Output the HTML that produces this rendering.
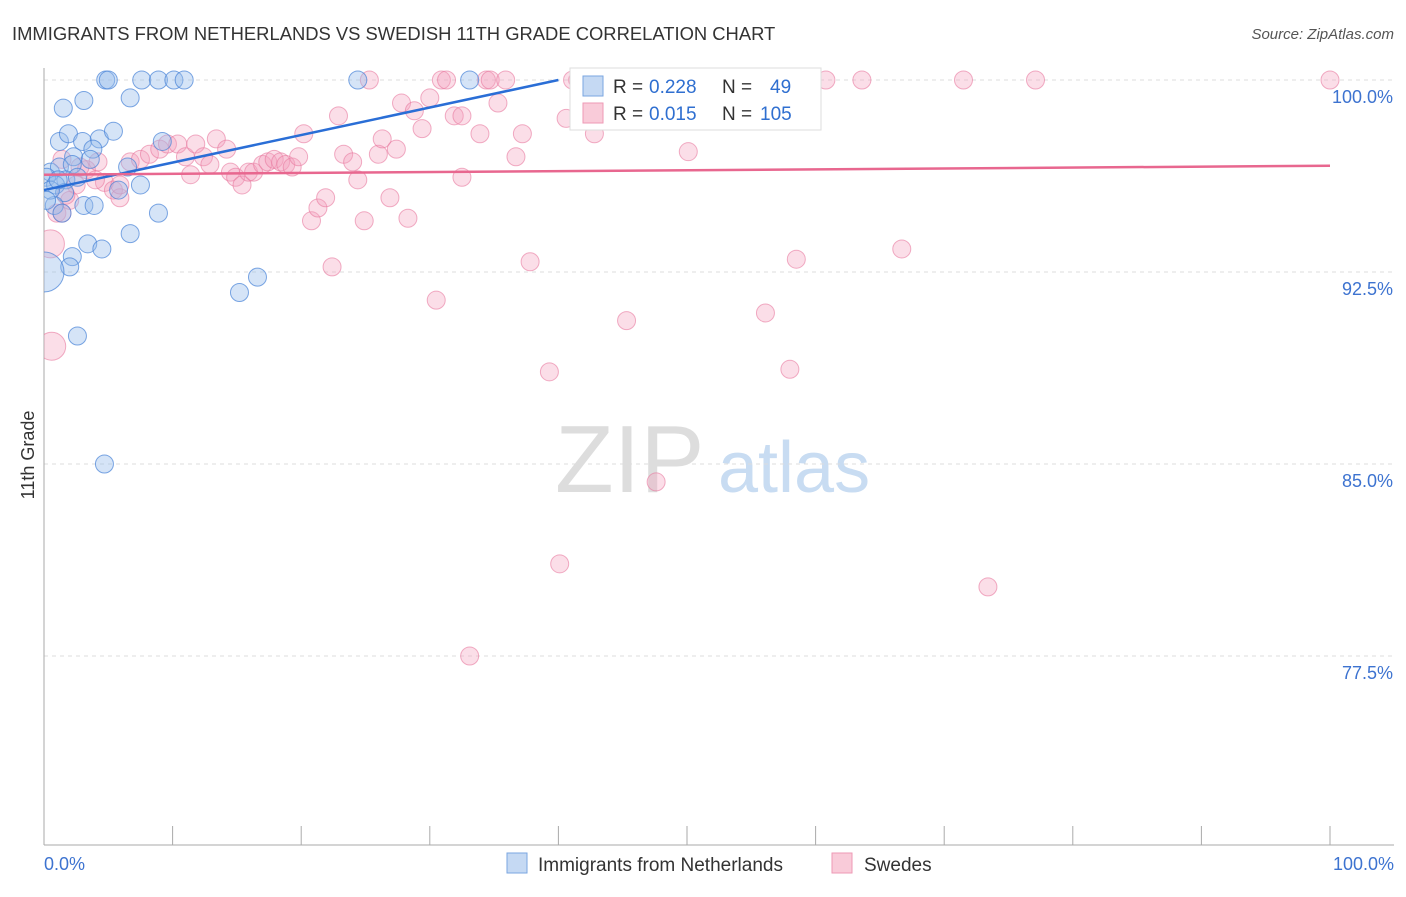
<!DOCTYPE html>
<html><head><meta charset="utf-8"><style>
body{margin:0;background:#fff;font-family:"Liberation Sans",sans-serif;}
svg text{font-family:"Liberation Sans",sans-serif;}
</style></head><body>
<svg id="chart" width="1406" height="892">
<defs><clipPath id="plotclip"><rect x="44" y="60" width="1360" height="785"/></clipPath></defs>
<text x="12" y="40" font-size="18.4" fill="#333">IMMIGRANTS FROM NETHERLANDS VS SWEDISH 11TH GRADE CORRELATION CHART</text>
<text x="1394" y="39" font-size="15" fill="#555" font-style="italic" text-anchor="end">Source: ZipAtlas.com</text>
<text x="555" y="492" font-size="96" fill="#ddd" font-family="Liberation Serif">ZIP</text>
<text x="718" y="492" font-size="72" fill="#c8dcf2">atlas</text>
<g id="grid"></g><g id="axes"></g><g id="pts" clip-path="url(#plotclip)"></g><g id="lines"></g>
<text x="34" y="455" font-size="18" fill="#333" transform="rotate(-90 34 455)" text-anchor="middle">11th Grade</text>
<g>
<rect x="570" y="68" width="251" height="62" fill="#fff" stroke="#ddd"/>
<rect x="583" y="76" width="20" height="20" fill="#c5d9f3" stroke="#7aa6e0"/>
<rect x="583" y="103" width="20" height="20" fill="#f9cbd9" stroke="#ee9ab5"/>
<text y="93" font-size="19" fill="#333"><tspan x="613">R =</tspan><tspan x="649" fill="#2f6fd0">0.228</tspan><tspan x="722">N =</tspan><tspan x="770" fill="#2f6fd0">49</tspan></text>
<text y="120" font-size="19" fill="#333"><tspan x="613">R =</tspan><tspan x="649" fill="#2f6fd0">0.015</tspan><tspan x="722">N =</tspan><tspan x="760" fill="#2f6fd0">105</tspan></text>
</g>
<g>
<rect x="507" y="853" width="20" height="20" fill="#c5d9f3" stroke="#7aa6e0"/>
<text x="538" y="871" font-size="19" fill="#333">Immigrants from Netherlands</text>
<rect x="832" y="853" width="20" height="20" fill="#f9cbd9" stroke="#ee9ab5"/>
<text x="864" y="871" font-size="19" fill="#333">Swedes</text>
</g>
</svg>
<script>
const yTicks=[100,92.5,85,77.5];
const yTickLabels=["100.0%","92.5%","85.0%","77.5%"];
const blueX=[4.8,5.0,7.6,8.9,10.1,10.9,24.4,33.1,1.5,3.1,6.7,1.2,1.9,3.0,4.3,5.4,9.2,3.8,2.3,0.5,1.2,2.2,6.5,0.2,1.7,0.9,2.6,1.6,5.8,7.5,0.8,3.1,3.9,1.4,8.9,6.7,3.4,4.5,2.2,2.0,0,2.6,15.2,16.6,4.7,0.5,1.1,0.2,3.6];
const blueY=[100,100,100,100,100,100,100,100,98.9,99.2,99.3,97.6,97.9,97.6,97.7,98.0,97.6,97.3,97.0,96.4,96.6,96.7,96.6,96.2,96.1,95.9,96.2,95.6,95.7,95.9,95.1,95.1,95.1,94.8,94.8,94.0,93.6,93.4,93.1,92.7,92.5,90.0,91.7,92.3,85.0,95.7,96.1,95.3,96.9];
const pinkX=[0.5,0.6,1.0,1.4,2.0,2.5,3.3,4.2,4.7,5.4,5.9,6.7,7.5,8.2,9.0,9.6,10.4,11.0,11.4,11.8,12.4,12.9,13.4,14.2,14.5,14.9,15.4,15.9,16.3,17.0,17.4,17.9,18.4,18.8,19.3,19.8,20.2,20.8,21.3,21.9,22.4,22.9,23.3,24.0,24.4,24.9,25.3,26.0,26.3,26.9,27.4,27.8,28.3,28.8,29.4,30.0,30.5,30.9,31.3,31.9,32.5,32.5,33.1,33.9,34.4,34.7,35.3,35.9,36.7,37.2,37.8,39.3,40.1,40.6,41.1,41.5,42.8,43.2,45.3,46.3,47.6,48.5,50.1,51.3,53.5,54.1,56.1,56.5,58.0,58.5,60.8,63.6,66.7,71.5,73.4,77.1,100,1.4,2.8,4.0,5.9,1.7];
const pinkY=[93.6,89.6,94.8,94.8,95.3,95.9,96.5,96.8,96.0,95.7,95.4,96.8,96.9,97.1,97.3,97.5,97.5,97.0,96.3,97.5,97.0,96.7,97.7,97.3,96.4,96.2,95.9,96.4,96.4,96.7,96.8,96.9,96.8,96.7,96.6,97.0,97.9,94.5,95.0,95.4,92.7,98.6,97.1,96.8,96.1,94.5,100,97.1,97.7,95.4,97.3,99.1,94.6,98.8,98.1,99.3,91.4,100,100,98.6,98.6,96.2,77.5,97.9,100,100,99.1,100,97.0,97.9,92.9,88.6,81.1,98.5,100,100,97.9,100,90.6,100,84.3,100,97.2,100,100,100,90.9,100,88.7,93.0,100,100,93.4,100,80.2,100,100,96.9,96.6,96.1,95.9,95.5];
const blueTrend=[95.7,100,0,40];
const pinkTrend=[96.3,96.65];
const NS="http://www.w3.org/2000/svg";
const X=v=>44+v*12.86, Y=v=>80+(100-v)*25.6;
function mk(t,a,p){const e=document.createElementNS(NS,t);for(const k in a)e.setAttribute(k,a[k]);document.getElementById(p).appendChild(e);return e;}
yTicks.forEach((t,i)=>{
 const g=mk('line',{x1:44,x2:1394,y1:Y(t),y2:Y(t),stroke:'#ddd','stroke-dasharray':'4,4'},'grid');
 
 
 const l=mk('text',{x:1393,y:Y(t)+23,'font-size':18,fill:'#3d73d0','text-anchor':'end'},'axes');
 l.textContent=yTickLabels[i];
 
 
});
mk('line',{x1:44,x2:44,y1:68,y2:845,stroke:'#aaa'},'axes');
mk('line',{x1:44,x2:1394,y1:845,y2:845,stroke:'#aaa'},'axes');
for(let i=0;i<=10;i++){mk('line',{x1:X(i*10),x2:X(i*10),y1:826,y2:845,stroke:'#aaa'},'axes');}
const xl=mk('text',{x:44,y:870,'font-size':18,fill:'#3d73d0'},'axes');xl.textContent='0.0%';


const xr=mk('text',{x:1394,y:870,'font-size':18,fill:'#3d73d0','text-anchor':'end'},'axes');xr.textContent='100.0%';


pinkX.forEach((v,i)=>{
 const r=(i<2)?14:9;
 const c=mk('circle',{cx:X(v),cy:Y(pinkY[i]),r:r,fill:'rgba(244,160,188,0.35)',stroke:'rgba(232,120,158,0.6)'},'pts');
 
 
});
blueX.forEach((v,i)=>{
 const r=(i===40)?20:9;
 const c=mk('circle',{cx:X(v),cy:Y(blueY[i]),r:r,fill:'rgba(150,188,236,0.4)',stroke:'rgba(70,130,215,0.7)'},'pts');
 
 
});
const bl=mk('line',{x1:X(blueTrend[2]),y1:Y(blueTrend[0]),x2:X(blueTrend[3]),y2:Y(blueTrend[1]),stroke:'#2a6ed6','stroke-width':2.5},'lines');


const pl=mk('line',{x1:X(0),y1:Y(pinkTrend[0]),x2:X(100),y2:Y(pinkTrend[1]),stroke:'#e8678f','stroke-width':2.5},'lines');


</script>
</body></html>
